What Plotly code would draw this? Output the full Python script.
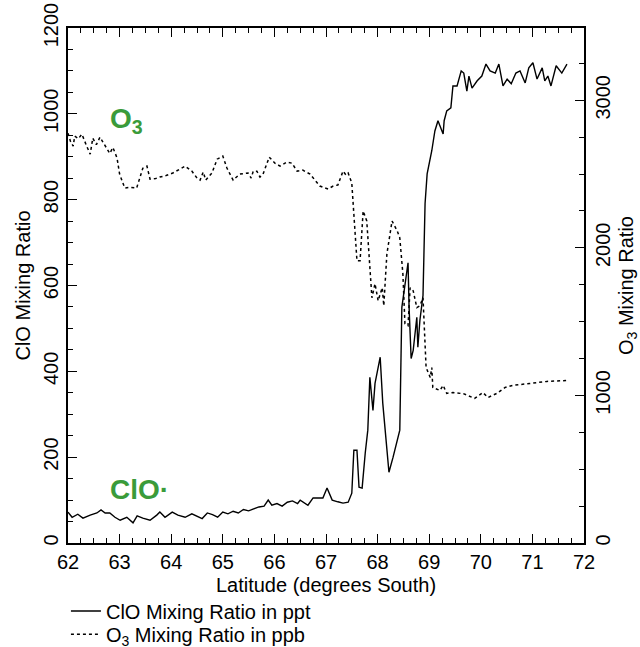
import plotly.graph_objects as go

# ---- ClO mixing ratio (ppt), left axis ----
clo_lat = [62.0, 62.08, 62.19, 62.29, 62.43, 62.56, 62.64, 62.72, 62.81, 62.91,
           63.01, 63.14, 63.26, 63.34, 63.45, 63.59, 63.72, 63.78, 63.88, 64.02,
           64.13, 64.27, 64.4, 64.5, 64.6, 64.7, 64.8, 64.9, 65.0, 65.1,
           65.2, 65.3, 65.4, 65.5, 65.6, 65.7, 65.8, 65.88, 65.95, 66.05,
           66.15, 66.25, 66.35, 66.45, 66.5, 66.65, 66.75, 66.94, 67.02, 67.12,
           67.23, 67.33, 67.43, 67.5, 67.54, 67.6, 67.64, 67.7, 67.76, 67.81,
           67.85, 67.91, 67.95, 68.05, 68.1, 68.18, 68.22, 68.3, 68.4, 68.43,
           68.47, 68.51, 68.55, 68.59, 68.61, 68.65, 68.69, 68.76, 68.78, 68.82,
           68.88, 68.92, 68.96, 69.05, 69.11, 69.17, 69.27, 69.29, 69.34, 69.42,
           69.46, 69.54, 69.62, 69.67, 69.73, 69.77, 69.83, 69.93, 70.02, 70.1,
           70.18, 70.28, 70.35, 70.43, 70.51, 70.59, 70.68, 70.76, 70.86, 70.93,
           71.01, 71.09, 71.19, 71.24, 71.3, 71.36, 71.46, 71.57, 71.67]
clo_ppt = [72, 60, 67, 58, 65, 70, 77, 70, 70, 60,
           53, 60, 47, 63, 58, 53, 65, 72, 60, 72,
           65, 60, 68, 62, 57, 70, 66, 60, 72, 68,
           74, 70, 78, 75, 80, 84, 86, 100, 88, 92,
           86, 95, 98, 92, 100, 88, 105, 105, 128, 100,
           96, 93, 95, 116, 216, 216, 130, 128, 209, 263,
           386, 309, 372, 433, 326, 209, 165, 200, 247, 263,
           549, 581, 612, 653, 549, 430, 449, 526, 456, 519,
           577, 791, 860, 914, 960, 984, 953, 984, 1007, 1014,
           1065, 1065, 1100, 1095, 1053, 1088, 1060, 1077, 1088, 1116,
           1100, 1095, 1116, 1065, 1081, 1070, 1095, 1100, 1072, 1107,
           1119, 1081, 1107, 1077, 1088, 1065, 1112, 1095, 1116]

# ---- O3 mixing ratio (ppb), right axis ----
o3_lat = [62.0, 62.05, 62.1, 62.13, 62.2, 62.27, 62.35, 62.43, 62.48, 62.55,
          62.62, 62.7, 62.81, 62.87, 62.95, 63.0, 63.1, 63.2, 63.33, 63.45,
          63.53, 63.59, 63.7, 63.78, 63.9, 64.03, 64.1, 64.17, 64.27, 64.4,
          64.5, 64.56, 64.62, 64.67, 64.79, 64.89, 65.0, 65.08, 65.2, 65.33,
          65.49, 65.55, 65.59, 65.66, 65.72, 65.78, 65.9, 66.01, 66.11, 66.24,
          66.34, 66.44, 66.55, 66.69, 66.79, 66.88, 67.04, 67.14, 67.23, 67.33,
          67.39, 67.43, 67.5, 67.52, 67.6, 67.66, 67.72, 67.79, 67.89, 67.95,
          68.01, 68.09, 68.12, 68.18, 68.28, 68.38, 68.43, 68.49, 68.53, 68.59,
          68.63, 68.69, 68.76, 68.82, 68.88, 68.94, 69.02, 69.05, 69.07, 69.21,
          69.27, 69.34, 69.46, 69.6, 69.65, 69.88, 70.04, 70.14, 70.31, 70.47,
          70.62, 70.95, 71.28, 71.67]
o3_ppb = [2777, 2720, 2690, 2757, 2740, 2770, 2700, 2635, 2743, 2700,
          2750, 2700, 2640, 2680, 2610, 2500, 2405, 2410, 2405, 2540,
          2554, 2466, 2470, 2480, 2490, 2507, 2520, 2534, 2554, 2520,
          2473, 2459, 2514, 2459, 2507, 2601, 2622, 2541, 2459, 2500,
          2507, 2473, 2520, 2520, 2480, 2500, 2615, 2574, 2554, 2581,
          2574, 2520, 2527, 2500, 2453, 2419, 2399, 2419, 2426, 2520,
          2493, 2507, 2439, 2318, 1912, 1912, 2250, 2182, 1662, 1757,
          1642, 1730, 1608, 1959, 2182, 2115, 2068, 1824, 1486, 1473,
          1730, 1709, 1595, 1608, 1662, 1189, 1122, 1189, 1054, 1034,
          1068, 1014, 1020, 1014, 1014, 980, 1020, 986, 1014, 1054,
          1068, 1081, 1095, 1101]

x_ticks = [62, 63, 64, 65, 66, 67, 68, 69, 70, 71, 72]
clo_ticks = [0, 200, 400, 600, 800, 1000, 1200]
o3_ticks = [0, 1000, 2000, 3000]

FONT = "Liberation Sans, Arial, sans-serif"
GREEN = "#3a9b3a"

fig = go.Figure()
fig.add_trace(go.Scatter(x=clo_lat, y=clo_ppt, mode="lines",
                         name="ClO Mixing Ratio in ppt", legend="legend",
                         line=dict(color="black", width=1.4)))
fig.add_trace(go.Scatter(x=o3_lat, y=o3_ppb, mode="lines", yaxis="y2",
                         name="O<sub>3</sub> Mixing Ratio in ppb",
                         legend="legend2",
                         line=dict(color="black", width=1.5, dash="dot")))

axis_common = dict(showgrid=False, zeroline=False, showline=True,
                   linecolor="black", linewidth=1.5, ticks="inside",
                   ticklen=9, tickwidth=1.3, tickcolor="black",
                   tickfont=dict(family=FONT, size=20, color="black"))

legend_common = dict(xanchor="left", yanchor="middle",
                     font=dict(family=FONT, size=20, color="black"),
                     bgcolor="rgba(0,0,0,0)", itemwidth=30)

fig.update_layout(
    width=640, height=647,
    margin=dict(l=68, r=56, t=28, b=104, autoexpand=False),
    paper_bgcolor="white", plot_bgcolor="white",
    font=dict(family=FONT, size=20, color="black"),
    xaxis=dict(range=[62, 72], tickvals=x_ticks, mirror="ticks",
               minor=dict(dtick=0.25, tick0=62, ticks="inside", ticklen=5,
                          tickwidth=1.2, tickcolor="black"),
               title=dict(text="Latitude (degrees South)", standoff=6,
                          font=dict(family=FONT, size=20)),
               **axis_common),
    yaxis=dict(range=[0, 1200], tickvals=clo_ticks, tickangle=-90,
               minor=dict(dtick=50, tick0=0, ticks="inside", ticklen=5,
                          tickwidth=1.2, tickcolor="black"),
               title=dict(text="ClO Mixing Ratio", standoff=4,
                          font=dict(family=FONT, size=20)),
               **axis_common),
    yaxis2=dict(range=[0, 3490], tickvals=o3_ticks, tickangle=-90,
                overlaying="y", side="right",
                minor=dict(dtick=250, tick0=0, ticks="inside", ticklen=5,
                           tickwidth=1.2, tickcolor="black"),
                title=dict(text="O<sub>3</sub> Mixing Ratio", standoff=10,
                           font=dict(family=FONT, size=20)),
                **axis_common),
    showlegend=True,
    legend=dict(x=-0.004, y=-0.132, **legend_common),
    legend2=dict(x=-0.004, y=-0.177, **legend_common),
    annotations=[
        dict(x=62.77, y=984, xref="x", yref="y", text="<b>O<sub>3</sub></b>",
             showarrow=False, xanchor="left", yanchor="middle",
             font=dict(family=FONT, size=28, color=GREEN)),
        dict(x=62.77, y=125, xref="x", yref="y", text="<b>ClO·</b>",
             showarrow=False, xanchor="left", yanchor="middle",
             font=dict(family=FONT, size=28, color=GREEN)),
    ],
)

fig.write_html("out.html")
